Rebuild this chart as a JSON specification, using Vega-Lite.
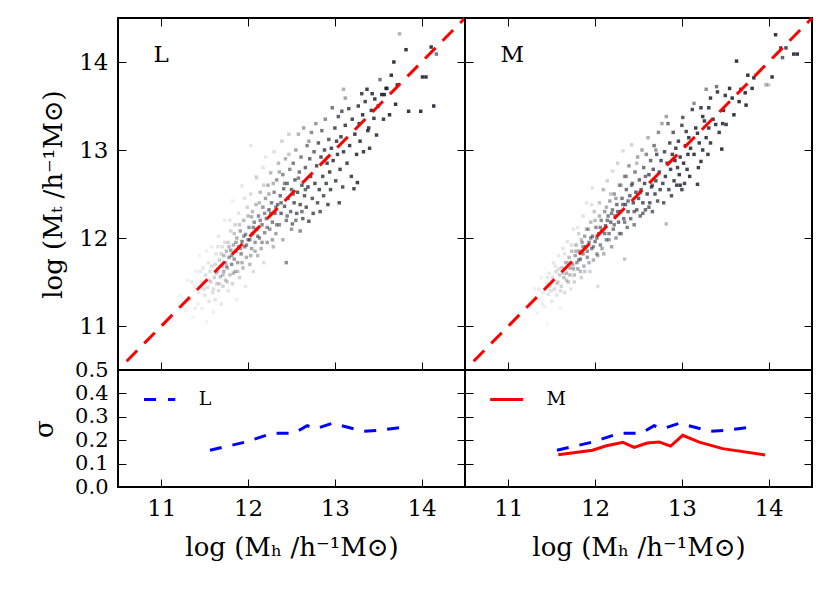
{
  "$schema": "https://vega.github.io/schema/vega-lite/v6.json",
  "padding": {"left": 30, "top": 11, "right": 5, "bottom": 5},
  "background": "white",
  "columns": 2,
  "bounds": "flush",
  "spacing": 0,
  "config": {
    "view": {"stroke": "black", "strokeWidth": 2},
    "axis": {
      "domain": false, "grid": false,
      "tickColor": "black", "tickWidth": 1, "tickSize": -8,
      "labelFont": "DejaVu Serif", "labelFontSize": 23, "labelColor": "black", "labelPadding": 18,
      "titleFont": "DejaVu Serif", "titleFontSize": 26, "titleFontWeight": "normal", "titleColor": "black"
    },
    "text": {"font": "DejaVu Serif"}
  },
  "datasets": {
    "ptsL": [
      {"x":11.22,"y":11.35,"w":0.06},{"x":11.28,"y":11.18,"w":0.06},{"x":11.3,"y":11.52,"w":0.07},{"x":11.33,"y":11.3,"w":0.08},{"x":11.36,"y":11.1,"w":0.06},{"x":11.38,"y":11.45,"w":0.08},{"x":11.4,"y":11.62,"w":0.07},{"x":11.42,"y":11.25,"w":0.08},{"x":11.43,"y":11.38,"w":0.1},{"x":11.44,"y":11.8,"w":0.06},
      {"x":11.46,"y":11.5,"w":0.12},{"x":11.47,"y":11.2,"w":0.08},{"x":11.48,"y":11.66,"w":0.1},{"x":11.5,"y":11.35,"w":0.12},{"x":11.51,"y":11.58,"w":0.14},{"x":11.52,"y":11.05,"w":0.06},{"x":11.53,"y":11.44,"w":0.15},{"x":11.54,"y":11.72,"w":0.1},{"x":11.55,"y":11.28,"w":0.12},{"x":11.56,"y":11.62,"w":0.15},{"x":11.57,"y":11.5,"w":0.18},{"x":11.58,"y":11.9,"w":0.08},{"x":11.59,"y":11.38,"w":0.14},{"x":11.6,"y":11.16,"w":0.08},
      {"x":11.61,"y":11.55,"w":0.2},{"x":11.62,"y":11.7,"w":0.18},{"x":11.62,"y":11.3,"w":0.12},{"x":11.63,"y":11.82,"w":0.12},{"x":11.64,"y":11.48,"w":0.22},{"x":11.65,"y":11.62,"w":0.25},{"x":11.66,"y":11.4,"w":0.15},{"x":11.66,"y":12.02,"w":0.1},{"x":11.67,"y":11.75,"w":0.22},{"x":11.68,"y":11.56,"w":0.28},{"x":11.69,"y":11.25,"w":0.1},{"x":11.7,"y":11.68,"w":0.3},{"x":11.7,"y":11.9,"w":0.15},{"x":11.71,"y":11.45,"w":0.2},{"x":11.72,"y":11.8,"w":0.3},{"x":11.72,"y":11.62,"w":0.35},{"x":11.73,"y":12.2,"w":0.08},{"x":11.74,"y":11.72,"w":0.35},{"x":11.74,"y":11.52,"w":0.25},
      {"x":11.75,"y":11.85,"w":0.3},{"x":11.76,"y":11.66,"w":0.35},{"x":11.77,"y":11.95,"w":0.2},{"x":11.77,"y":11.4,"w":0.12},{"x":11.78,"y":11.78,"w":0.45},{"x":11.79,"y":11.58,"w":0.25},{"x":11.8,"y":12.08,"w":0.18},{"x":11.8,"y":11.86,"w":0.4},{"x":11.81,"y":11.7,"w":0.5},{"x":11.82,"y":11.48,"w":0.2},{"x":11.82,"y":12.42,"w":0.08},{"x":11.83,"y":11.92,"w":0.35},{"x":11.84,"y":11.76,"w":0.45},{"x":11.85,"y":12.15,"w":0.2},{"x":11.85,"y":11.62,"w":0.3},{"x":11.86,"y":11.85,"w":0.5},{"x":11.87,"y":12.0,"w":0.35},{"x":11.87,"y":11.3,"w":0.08},{"x":11.88,"y":11.72,"w":0.4},{"x":11.89,"y":11.9,"w":0.45},{"x":11.89,"y":12.28,"w":0.12},
      {"x":11.9,"y":11.55,"w":0.2},{"x":11.91,"y":12.08,"w":0.4},{"x":11.92,"y":11.82,"w":0.5},{"x":11.93,"y":11.96,"w":0.55},{"x":11.93,"y":12.59,"w":0.1},{"x":11.94,"y":11.66,"w":0.3},{"x":11.95,"y":12.2,"w":0.3},{"x":11.96,"y":11.9,"w":0.5},{"x":11.97,"y":12.04,"w":0.5},{"x":11.97,"y":11.45,"w":0.1},{"x":11.98,"y":11.78,"w":0.35},{"x":11.99,"y":12.35,"w":0.2},{"x":12.0,"y":11.98,"w":0.55},{"x":12.01,"y":12.12,"w":0.45},{"x":12.02,"y":11.7,"w":0.3},{"x":12.03,"y":13.05,"w":0.1},{"x":12.03,"y":12.5,"w":0.15},{"x":12.04,"y":11.88,"w":0.4},{"x":12.04,"y":12.24,"w":0.35},
      {"x":12.05,"y":12.05,"w":0.55},{"x":12.06,"y":11.62,"w":0.15},{"x":12.07,"y":12.18,"w":0.5},{"x":12.08,"y":11.95,"w":0.45},{"x":12.09,"y":12.38,"w":0.3},{"x":12.1,"y":12.1,"w":0.55},{"x":12.1,"y":12.68,"w":0.15},{"x":12.11,"y":11.8,"w":0.3},{"x":12.12,"y":12.25,"w":0.5},{"x":12.13,"y":12.0,"w":0.5},{"x":12.14,"y":12.52,"w":0.3},{"x":12.15,"y":11.88,"w":0.35},{"x":12.16,"y":12.15,"w":0.55},{"x":12.17,"y":12.8,"w":0.12},{"x":12.17,"y":12.35,"w":0.45},{"x":12.18,"y":11.72,"w":0.15},{"x":12.19,"y":12.06,"w":0.5},{"x":12.2,"y":12.45,"w":0.4},{"x":12.2,"y":12.92,"w":0.1},
      {"x":12.21,"y":12.22,"w":0.55},{"x":12.22,"y":11.95,"w":0.4},{"x":12.23,"y":12.6,"w":0.35},{"x":12.24,"y":12.32,"w":0.6},{"x":12.25,"y":12.1,"w":0.45},{"x":12.26,"y":12.74,"w":0.3},{"x":12.27,"y":12.4,"w":0.55},{"x":12.28,"y":12.18,"w":0.55},{"x":12.29,"y":11.9,"w":0.3},{"x":12.3,"y":12.52,"w":0.5},{"x":12.3,"y":12.98,"w":0.15},{"x":12.31,"y":12.28,"w":0.6},{"x":12.32,"y":12.05,"w":0.4},{"x":12.33,"y":12.66,"w":0.45},{"x":12.34,"y":12.38,"w":0.6},{"x":12.35,"y":12.85,"w":0.3},
      {"x":12.36,"y":12.15,"w":0.5},{"x":12.37,"y":12.48,"w":0.6},{"x":12.38,"y":12.28,"w":0.65},{"x":12.39,"y":13.1,"w":0.2},{"x":12.4,"y":12.72,"w":0.5},{"x":12.4,"y":11.98,"w":0.35},{"x":12.41,"y":12.56,"w":0.6},{"x":12.42,"y":12.36,"w":0.65},{"x":12.43,"y":12.9,"w":0.35},{"x":12.44,"y":11.72,"w":0.5},{"x":12.44,"y":12.2,"w":0.55},{"x":12.45,"y":12.62,"w":0.6},{"x":12.46,"y":12.45,"w":0.65},{"x":12.47,"y":13.18,"w":0.2},{"x":12.48,"y":12.78,"w":0.5},{"x":12.49,"y":12.3,"w":0.6},{"x":12.5,"y":12.55,"w":0.65},{"x":12.5,"y":12.1,"w":0.45},
      {"x":12.51,"y":12.16,"w":0.6},{"x":12.52,"y":12.85,"w":0.55},{"x":12.53,"y":12.4,"w":0.7},{"x":12.54,"y":12.66,"w":0.65},{"x":12.55,"y":13.0,"w":0.4},{"x":12.56,"y":12.28,"w":0.65},{"x":12.57,"y":12.52,"w":0.7},{"x":12.58,"y":13.18,"w":0.35},{"x":12.59,"y":12.75,"w":0.6},{"x":12.6,"y":12.38,"w":0.7},{"x":12.6,"y":12.08,"w":0.5},{"x":12.61,"y":12.92,"w":0.55},{"x":12.62,"y":12.6,"w":0.7},{"x":12.63,"y":12.22,"w":0.65},{"x":12.64,"y":13.25,"w":0.4},{"x":12.65,"y":12.48,"w":0.7},
      {"x":12.66,"y":12.8,"w":0.65},{"x":12.67,"y":12.35,"w":0.7},{"x":12.68,"y":13.05,"w":0.55},{"x":12.69,"y":12.58,"w":0.75},{"x":12.7,"y":12.19,"w":0.7},{"x":12.71,"y":12.9,"w":0.65},{"x":12.72,"y":12.7,"w":0.75},{"x":12.73,"y":13.2,"w":0.5},{"x":12.74,"y":12.45,"w":0.7},{"x":12.75,"y":12.28,"w":0.7},{"x":12.76,"y":12.98,"w":0.65},{"x":12.77,"y":12.62,"w":0.75},{"x":12.78,"y":13.3,"w":0.45},{"x":12.79,"y":12.82,"w":0.75},{"x":12.8,"y":12.4,"w":0.7},
      {"x":12.81,"y":13.08,"w":0.7},{"x":12.82,"y":12.55,"w":0.75},{"x":12.83,"y":12.3,"w":0.7},{"x":12.84,"y":12.92,"w":0.75},{"x":12.85,"y":13.22,"w":0.6},{"x":12.86,"y":12.7,"w":0.75},{"x":12.87,"y":12.48,"w":0.7},{"x":12.88,"y":13.0,"w":0.75},{"x":12.89,"y":13.35,"w":0.5},{"x":12.9,"y":12.62,"w":0.75},{"x":12.91,"y":12.85,"w":0.8},{"x":12.92,"y":12.38,"w":0.75},{"x":12.93,"y":13.12,"w":0.7},{"x":12.94,"y":12.75,"w":0.8},{"x":12.95,"y":12.55,"w":0.75},
      {"x":12.96,"y":13.02,"w":0.8},{"x":12.97,"y":13.48,"w":0.6},{"x":12.98,"y":12.88,"w":0.8},{"x":13.0,"y":13.25,"w":0.75},{"x":13.01,"y":12.65,"w":0.75},{"x":13.02,"y":13.1,"w":0.8},{"x":13.03,"y":12.95,"w":0.8},{"x":13.04,"y":13.38,"w":0.7},{"x":13.05,"y":12.4,"w":0.75},{"x":13.06,"y":12.78,"w":0.8},{"x":13.07,"y":13.15,"w":0.8},{"x":13.08,"y":13.44,"w":0.7},{"x":13.09,"y":12.58,"w":0.75},{"x":13.1,"y":13.69,"w":0.35},{"x":13.1,"y":12.98,"w":0.8},
      {"x":13.12,"y":13.59,"w":0.4},{"x":13.12,"y":13.28,"w":0.8},{"x":13.14,"y":12.85,"w":0.8},{"x":13.16,"y":13.47,"w":0.75},{"x":13.17,"y":13.05,"w":0.85},{"x":13.19,"y":12.7,"w":0.8},{"x":13.2,"y":13.35,"w":0.8},{"x":13.22,"y":12.56,"w":0.8},{"x":13.23,"y":13.18,"w":0.85},{"x":13.25,"y":12.95,"w":0.85},{"x":13.26,"y":12.63,"w":0.85},{"x":13.27,"y":13.5,"w":0.8},{"x":13.28,"y":13.3,"w":0.85},{"x":13.29,"y":13.1,"w":0.85},
      {"x":13.31,"y":13.64,"w":0.8},{"x":13.32,"y":13.4,"w":0.85},{"x":13.33,"y":12.98,"w":0.85},{"x":13.35,"y":13.55,"w":0.8},{"x":13.37,"y":13.69,"w":0.85},{"x":13.38,"y":13.22,"w":0.85},{"x":13.39,"y":13.25,"w":0.85},{"x":13.4,"y":13.02,"w":0.85},{"x":13.42,"y":13.45,"w":0.85},{"x":13.43,"y":13.64,"w":0.85},{"x":13.45,"y":13.36,"w":0.85},{"x":13.46,"y":13.58,"w":0.85},{"x":13.48,"y":13.17,"w":0.85},{"x":13.5,"y":13.5,"w":0.85},
      {"x":13.52,"y":13.8,"w":0.6},{"x":13.54,"y":13.63,"w":0.9},{"x":13.56,"y":13.35,"w":0.85},{"x":13.57,"y":13.63,"w":0.9},{"x":13.59,"y":13.7,"w":0.9},{"x":13.6,"y":13.7,"w":0.85},{"x":13.63,"y":13.4,"w":0.9},{"x":13.65,"y":13.85,"w":0.9},{"x":13.68,"y":14.0,"w":0.9},{"x":13.7,"y":13.52,"w":0.9},{"x":13.72,"y":13.74,"w":0.9},{"x":13.745,"y":14.32,"w":0.35},
      {"x":13.82,"y":14.14,"w":0.9},{"x":13.85,"y":13.44,"w":0.9},{"x":13.99,"y":13.44,"w":0.9},{"x":14.01,"y":13.83,"w":0.9},{"x":14.05,"y":13.83,"w":0.9},{"x":14.11,"y":14.17,"w":0.9},{"x":14.14,"y":13.5,"w":0.9},{"x":14.17,"y":14.09,"w":0.6},
      {"x":11.35,"y":11.5,"w":0.1},{"x":11.39,"y":11.2,"w":0.08},{"x":11.45,"y":11.62,"w":0.1},{"x":11.49,"y":11.42,"w":0.14},{"x":11.52,"y":11.85,"w":0.08},{"x":11.55,"y":11.52,"w":0.16},{"x":11.58,"y":11.68,"w":0.15},{"x":11.6,"y":11.42,"w":0.16},{"x":11.63,"y":11.6,"w":0.22},{"x":11.65,"y":11.9,"w":0.12},{"x":11.67,"y":11.48,"w":0.2},{"x":11.69,"y":11.82,"w":0.2},{"x":11.71,"y":11.58,"w":0.28},{"x":11.73,"y":11.95,"w":0.15},{"x":11.75,"y":11.68,"w":0.35},{"x":11.76,"y":11.5,"w":0.2},{"x":11.78,"y":11.9,"w":0.3},{"x":11.79,"y":12.2,"w":0.1},{"x":11.81,"y":11.8,"w":0.45},{"x":11.83,"y":11.6,"w":0.3},
      {"x":11.84,"y":12.05,"w":0.25},{"x":11.86,"y":11.95,"w":0.4},{"x":11.88,"y":11.62,"w":0.25},{"x":11.9,"y":12.15,"w":0.25},{"x":11.91,"y":11.88,"w":0.45},{"x":11.93,"y":11.72,"w":0.35},{"x":11.95,"y":12.02,"w":0.45},{"x":11.96,"y":12.45,"w":0.12},{"x":11.98,"y":11.92,"w":0.5},{"x":12.0,"y":12.25,"w":0.3},{"x":12.02,"y":11.98,"w":0.5},{"x":12.03,"y":11.8,"w":0.35},{"x":12.05,"y":12.3,"w":0.3},{"x":12.06,"y":12.12,"w":0.5},{"x":12.08,"y":11.85,"w":0.35},{"x":12.09,"y":12.7,"w":0.12},{"x":12.11,"y":12.02,"w":0.5},{"x":12.13,"y":12.4,"w":0.3},{"x":12.14,"y":12.2,"w":0.5},{"x":12.16,"y":11.95,"w":0.45},
      {"x":12.18,"y":12.6,"w":0.2},{"x":12.19,"y":12.28,"w":0.5},{"x":12.22,"y":12.12,"w":0.5},{"x":12.24,"y":12.5,"w":0.35},{"x":12.26,"y":12.28,"w":0.55},{"x":12.28,"y":11.98,"w":0.4},{"x":12.29,"y":12.62,"w":0.35},{"x":12.32,"y":12.35,"w":0.55},{"x":12.33,"y":12.15,"w":0.5},{"x":12.36,"y":12.75,"w":0.35},{"x":12.38,"y":12.4,"w":0.6},{"x":12.42,"y":12.62,"w":0.5},{"x":12.45,"y":12.25,"w":0.55},{"x":12.47,"y":12.95,"w":0.25},{"x":12.52,"y":12.5,"w":0.6},{"x":12.55,"y":12.2,"w":0.55},{"x":12.58,"y":12.68,"w":0.55},{"x":12.62,"y":12.3,"w":0.6},{"x":12.66,"y":12.55,"w":0.65},{"x":12.7,"y":13.1,"w":0.4}
    ],
    "ptsM": [
      {"x":11.25,"y":11.2,"w":0.06},{"x":11.3,"y":11.42,"w":0.07},{"x":11.33,"y":11.15,"w":0.06},{"x":11.36,"y":11.3,"w":0.08},{"x":11.38,"y":11.55,"w":0.07},{"x":11.4,"y":11.38,"w":0.1},{"x":11.42,"y":11.22,"w":0.08},{"x":11.44,"y":11.48,"w":0.1},{"x":11.45,"y":11.02,"w":0.05},
      {"x":11.46,"y":11.36,"w":0.12},{"x":11.47,"y":11.6,"w":0.1},{"x":11.48,"y":11.45,"w":0.14},{"x":11.5,"y":11.28,"w":0.1},{"x":11.51,"y":11.55,"w":0.16},{"x":11.52,"y":11.72,"w":0.1},{"x":11.53,"y":11.42,"w":0.16},{"x":11.55,"y":11.62,"w":0.18},{"x":11.56,"y":11.35,"w":0.12},{"x":11.57,"y":11.5,"w":0.2},{"x":11.58,"y":11.8,"w":0.1},{"x":11.59,"y":11.58,"w":0.22},{"x":11.6,"y":11.2,"w":0.06},
      {"x":11.61,"y":11.45,"w":0.2},{"x":11.62,"y":11.66,"w":0.25},{"x":11.63,"y":11.88,"w":0.12},{"x":11.64,"y":11.55,"w":0.28},{"x":11.65,"y":11.38,"w":0.15},{"x":11.66,"y":11.72,"w":0.3},{"x":11.67,"y":11.6,"w":0.32},{"x":11.68,"y":11.96,"w":0.12},{"x":11.69,"y":11.5,"w":0.25},{"x":11.7,"y":11.78,"w":0.3},{"x":11.71,"y":11.66,"w":0.38},{"x":11.72,"y":11.42,"w":0.12},{"x":11.73,"y":11.85,"w":0.28},{"x":11.74,"y":11.7,"w":0.4},{"x":11.75,"y":12.1,"w":0.1},
      {"x":11.76,"y":11.58,"w":0.3},{"x":11.77,"y":11.8,"w":0.4},{"x":11.78,"y":11.92,"w":0.3},{"x":11.79,"y":11.72,"w":0.45},{"x":11.8,"y":11.65,"w":0.35},{"x":11.81,"y":12.05,"w":0.2},{"x":11.82,"y":11.85,"w":0.45},{"x":11.83,"y":11.76,"w":0.5},{"x":11.84,"y":11.55,"w":0.2},{"x":11.85,"y":11.95,"w":0.4},{"x":11.86,"y":12.25,"w":0.12},{"x":11.86,"y":11.82,"w":0.5},{"x":11.87,"y":11.68,"w":0.35},{"x":11.88,"y":12.02,"w":0.4},{"x":11.89,"y":11.9,"w":0.55},{"x":11.9,"y":12.4,"w":0.1},
      {"x":11.91,"y":11.78,"w":0.45},{"x":11.92,"y":12.1,"w":0.4},{"x":11.93,"y":11.95,"w":0.55},{"x":11.94,"y":11.62,"w":0.2},{"x":11.95,"y":12.18,"w":0.3},{"x":11.96,"y":11.88,"w":0.5},{"x":11.97,"y":12.57,"w":0.12},{"x":11.97,"y":12.02,"w":0.55},{"x":11.98,"y":11.75,"w":0.35},{"x":11.99,"y":12.3,"w":0.25},{"x":12.0,"y":11.96,"w":0.55},{"x":12.01,"y":12.12,"w":0.5},{"x":12.02,"y":11.82,"w":0.4},{"x":12.03,"y":11.45,"w":0.15},{"x":12.04,"y":12.05,"w":0.55},{"x":12.05,"y":12.4,"w":0.25},
      {"x":12.06,"y":11.92,"w":0.5},{"x":12.07,"y":12.2,"w":0.5},{"x":12.08,"y":12.08,"w":0.6},{"x":12.09,"y":12.55,"w":0.2},{"x":12.1,"y":11.82,"w":0.35},{"x":12.11,"y":12.3,"w":0.45},{"x":12.12,"y":12.14,"w":0.6},{"x":12.13,"y":11.98,"w":0.5},{"x":12.14,"y":12.65,"w":0.2},{"x":12.15,"y":12.25,"w":0.55},{"x":12.16,"y":12.05,"w":0.55},{"x":12.17,"y":12.42,"w":0.4},{"x":12.18,"y":12.18,"w":0.6},{"x":12.19,"y":11.9,"w":0.4},{"x":12.2,"y":12.76,"w":0.15},{"x":12.2,"y":12.32,"w":0.55},
      {"x":12.21,"y":12.1,"w":0.55},{"x":12.22,"y":12.5,"w":0.45},{"x":12.23,"y":12.25,"w":0.6},{"x":12.24,"y":12.0,"w":0.45},{"x":12.25,"y":12.38,"w":0.6},{"x":12.26,"y":12.85,"w":0.2},{"x":12.27,"y":12.18,"w":0.6},{"x":12.28,"y":12.6,"w":0.45},{"x":12.29,"y":12.3,"w":0.65},{"x":12.3,"y":12.05,"w":0.5},{"x":12.31,"y":12.45,"w":0.6},{"x":12.32,"y":12.99,"w":0.15},{"x":12.33,"y":12.22,"w":0.6},{"x":12.34,"y":11.76,"w":0.25},{"x":12.34,"y":12.7,"w":0.45},{"x":12.35,"y":12.38,"w":0.65},
      {"x":12.36,"y":12.55,"w":0.6},{"x":12.37,"y":12.12,"w":0.55},{"x":12.38,"y":12.3,"w":0.65},{"x":12.39,"y":12.82,"w":0.45},{"x":12.4,"y":12.48,"w":0.65},{"x":12.41,"y":12.22,"w":0.6},{"x":12.42,"y":13.06,"w":0.2},{"x":12.43,"y":12.62,"w":0.6},{"x":12.44,"y":12.4,"w":0.7},{"x":12.45,"y":12.15,"w":0.55},{"x":12.46,"y":12.75,"w":0.55},{"x":12.47,"y":12.52,"w":0.7},{"x":12.48,"y":12.32,"w":0.65},{"x":12.49,"y":12.92,"w":0.4},{"x":12.5,"y":12.45,"w":0.7},
      {"x":12.51,"y":12.66,"w":0.65},{"x":12.52,"y":12.25,"w":0.6},{"x":12.53,"y":12.55,"w":0.7},{"x":12.54,"y":13.0,"w":0.4},{"x":12.55,"y":12.4,"w":0.7},{"x":12.56,"y":12.8,"w":0.6},{"x":12.57,"y":12.62,"w":0.75},{"x":12.58,"y":12.32,"w":0.65},{"x":12.59,"y":12.95,"w":0.5},{"x":12.6,"y":12.5,"w":0.75},{"x":12.61,"y":13.14,"w":0.35},{"x":12.62,"y":12.72,"w":0.7},{"x":12.63,"y":12.4,"w":0.7},{"x":12.64,"y":12.88,"w":0.65},{"x":12.65,"y":12.58,"w":0.75},
      {"x":12.66,"y":12.3,"w":0.65},{"x":12.67,"y":12.78,"w":0.7},{"x":12.68,"y":13.05,"w":0.6},{"x":12.69,"y":12.5,"w":0.75},{"x":12.7,"y":12.65,"w":0.75},{"x":12.71,"y":12.95,"w":0.7},{"x":12.72,"y":12.42,"w":0.7},{"x":12.73,"y":13.2,"w":0.5},{"x":12.74,"y":12.75,"w":0.75},{"x":12.75,"y":12.55,"w":0.75},{"x":12.76,"y":12.88,"w":0.75},{"x":12.77,"y":13.3,"w":0.4},{"x":12.78,"y":12.62,"w":0.75},{"x":12.79,"y":12.4,"w":0.7},{"x":12.8,"y":12.98,"w":0.75},
      {"x":12.81,"y":12.7,"w":0.8},{"x":12.82,"y":12.16,"w":0.3},{"x":12.82,"y":13.38,"w":0.4},{"x":12.83,"y":12.85,"w":0.8},{"x":12.84,"y":13.3,"w":0.6},{"x":12.85,"y":12.55,"w":0.75},{"x":12.86,"y":13.08,"w":0.75},{"x":12.87,"y":12.78,"w":0.8},{"x":12.88,"y":12.48,"w":0.75},{"x":12.89,"y":12.95,"w":0.8},{"x":12.9,"y":13.2,"w":0.7},{"x":12.91,"y":12.65,"w":0.8},{"x":12.92,"y":12.88,"w":0.85},{"x":12.93,"y":13.02,"w":0.8},{"x":12.94,"y":12.6,"w":0.8},{"x":12.95,"y":12.8,"w":0.8},
      {"x":12.96,"y":13.1,"w":0.8},{"x":12.97,"y":12.72,"w":0.85},{"x":12.98,"y":12.92,"w":0.85},{"x":12.98,"y":12.6,"w":0.85},{"x":13.0,"y":13.28,"w":0.75},{"x":13.0,"y":12.55,"w":0.8},{"x":13.01,"y":13.37,"w":0.7},{"x":13.02,"y":12.85,"w":0.85},{"x":13.03,"y":12.62,"w":0.8},{"x":13.04,"y":13.05,"w":0.85},{"x":13.05,"y":13.21,"w":0.8},{"x":13.06,"y":12.78,"w":0.85},{"x":13.07,"y":12.95,"w":0.85},{"x":13.08,"y":13.14,"w":0.85},{"x":13.09,"y":12.7,"w":0.85},{"x":13.1,"y":13.02,"w":0.85},
      {"x":13.12,"y":13.46,"w":0.8},{"x":13.14,"y":12.95,"w":0.85},{"x":13.14,"y":13.53,"w":0.5},{"x":13.16,"y":13.25,"w":0.85},{"x":13.18,"y":13.19,"w":0.85},{"x":13.18,"y":12.61,"w":0.85},{"x":13.19,"y":12.8,"w":0.85},{"x":13.2,"y":13.08,"w":0.85},{"x":13.22,"y":12.87,"w":0.85},{"x":13.22,"y":13.48,"w":0.85},{"x":13.24,"y":13.38,"w":0.85},{"x":13.24,"y":13.0,"w":0.85},{"x":13.26,"y":13.33,"w":0.85},{"x":13.28,"y":13.14,"w":0.85},{"x":13.28,"y":13.69,"w":0.5},{"x":13.3,"y":12.95,"w":0.85},
      {"x":13.31,"y":13.48,"w":0.85},{"x":13.31,"y":13.25,"w":0.85},{"x":13.33,"y":13.59,"w":0.85},{"x":13.33,"y":13.08,"w":0.85},{"x":13.36,"y":13.35,"w":0.85},{"x":13.39,"y":13.29,"w":0.85},{"x":13.4,"y":13.72,"w":0.6},{"x":13.41,"y":13.66,"w":0.85},{"x":13.43,"y":13.2,"w":0.85},{"x":13.46,"y":13.01,"w":0.9},{"x":13.47,"y":13.3,"w":0.85},{"x":13.48,"y":13.45,"w":0.85},{"x":13.5,"y":13.62,"w":0.85},
      {"x":13.51,"y":13.29,"w":0.85},{"x":13.55,"y":13.7,"w":0.9},{"x":13.58,"y":13.59,"w":0.9},{"x":13.6,"y":13.4,"w":0.9},{"x":13.63,"y":14.01,"w":0.9},{"x":13.66,"y":13.55,"w":0.9},{"x":13.68,"y":13.69,"w":0.9},{"x":13.73,"y":13.65,"w":0.9},{"x":13.74,"y":13.51,"w":0.9},{"x":13.76,"y":13.85,"w":0.9},{"x":13.81,"y":13.7,"w":0.9},{"x":13.83,"y":13.82,"w":0.9},{"x":13.97,"y":13.74,"w":0.35},{"x":14.0,"y":13.74,"w":0.25},
      {"x":14.04,"y":13.83,"w":0.9},{"x":14.08,"y":14.31,"w":0.9},{"x":14.14,"y":14.16,"w":0.8},{"x":14.2,"y":14.16,"w":0.8},{"x":14.16,"y":14.05,"w":0.7},{"x":14.29,"y":14.09,"w":0.9},{"x":14.33,"y":14.09,"w":0.9},
      {"x":11.35,"y":11.42,"w":0.1},{"x":11.39,"y":11.25,"w":0.08},{"x":11.45,"y":11.55,"w":0.1},{"x":11.49,"y":11.4,"w":0.14},{"x":11.54,"y":11.68,"w":0.1},{"x":11.56,"y":11.48,"w":0.16},{"x":11.58,"y":11.65,"w":0.15},{"x":11.6,"y":11.4,"w":0.16},{"x":11.63,"y":11.6,"w":0.22},{"x":11.65,"y":11.82,"w":0.12},{"x":11.67,"y":11.52,"w":0.22},{"x":11.69,"y":11.72,"w":0.25},{"x":11.71,"y":11.58,"w":0.3},{"x":11.73,"y":11.92,"w":0.15},{"x":11.75,"y":11.65,"w":0.38},{"x":11.76,"y":11.5,"w":0.2},{"x":11.78,"y":11.85,"w":0.35},{"x":11.8,"y":12.12,"w":0.1},{"x":11.81,"y":11.75,"w":0.45},{"x":11.83,"y":11.62,"w":0.3},
      {"x":11.84,"y":11.98,"w":0.25},{"x":11.86,"y":11.9,"w":0.45},{"x":11.88,"y":11.62,"w":0.25},{"x":11.9,"y":12.1,"w":0.3},{"x":11.91,"y":11.85,"w":0.5},{"x":11.93,"y":11.72,"w":0.35},{"x":11.95,"y":12.0,"w":0.5},{"x":11.96,"y":12.38,"w":0.12},{"x":11.98,"y":11.9,"w":0.5},{"x":12.0,"y":12.2,"w":0.3},{"x":12.02,"y":12.0,"w":0.55},{"x":12.03,"y":11.8,"w":0.35},{"x":12.05,"y":12.25,"w":0.35},{"x":12.06,"y":12.12,"w":0.55},{"x":12.08,"y":11.88,"w":0.4},{"x":12.1,"y":12.55,"w":0.15},{"x":12.11,"y":12.05,"w":0.55},{"x":12.13,"y":12.35,"w":0.35},{"x":12.14,"y":12.2,"w":0.55},{"x":12.16,"y":11.98,"w":0.45},
      {"x":12.18,"y":12.5,"w":0.25},{"x":12.19,"y":12.28,"w":0.55},{"x":12.22,"y":12.15,"w":0.55},{"x":12.24,"y":12.45,"w":0.4},{"x":12.26,"y":12.3,"w":0.6},{"x":12.28,"y":12.05,"w":0.45},{"x":12.3,"y":12.6,"w":0.35},{"x":12.32,"y":12.38,"w":0.6},{"x":12.34,"y":12.18,"w":0.55},{"x":12.36,"y":12.7,"w":0.4},{"x":12.38,"y":12.42,"w":0.6},{"x":12.42,"y":12.6,"w":0.55},{"x":12.45,"y":12.3,"w":0.6},{"x":12.48,"y":12.85,"w":0.3},{"x":12.52,"y":12.52,"w":0.65},{"x":12.55,"y":12.28,"w":0.6},{"x":12.58,"y":12.7,"w":0.6},{"x":12.62,"y":12.35,"w":0.65},{"x":12.66,"y":12.6,"w":0.65},{"x":12.7,"y":13.0,"w":0.45}
    ],
    "sigL": [
      {"x":11.56,"s":0.157},{"x":11.97,"s":0.192},{"x":12.28,"s":0.23},{"x":12.53,"s":0.23},{"x":12.68,"s":0.262},{"x":12.78,"s":0.249},{"x":12.97,"s":0.272},{"x":13.33,"s":0.238},{"x":13.51,"s":0.242},{"x":13.83,"s":0.257}
    ],
    "sigM": [
      {"x":11.575,"s":0.138},{"x":11.97,"s":0.157},{"x":12.12,"s":0.175},{"x":12.32,"s":0.191},{"x":12.45,"s":0.169},{"x":12.6,"s":0.188},{"x":12.74,"s":0.192},{"x":12.87,"s":0.175},{"x":13.01,"s":0.221},{"x":13.2,"s":0.192},{"x":13.47,"s":0.164},{"x":13.96,"s":0.137}
    ]
  },
  "concat": [
    {
      "width": 347, "height": 352,
      "resolve": {"axis": {"x": "independent", "y": "independent"}},
      "layer": [
        {
          "data": {"name": "ptsL"},
          "mark": {"type": "square", "size": 12, "color": "#1e2130"},
          "encoding": {
            "x": {"field": "x", "type": "quantitative", "scale": {"domain": [10.5, 14.5], "nice": false, "zero": false}, "axis": {"orient": "bottom", "values": [11, 12, 13, 14], "labels": false, "title": null}},
            "y": {"field": "y", "type": "quantitative", "scale": {"domain": [10.5, 14.5], "nice": false, "zero": false}, "axis": {"orient": "left", "values": [11, 12, 13, 14], "title": "log (Mₜ /h⁻¹M⊙)", "titlePadding": 12}},
            "opacity": {"field": "w", "type": "quantitative", "scale": {"domain": [0, 1], "range": [0, 1]}, "legend": null}
          }
        },
        {
          "data": {"values": [{"m": 10.6}, {"m": 14.5}]},
          "mark": {"type": "line", "color": "#ff0000", "strokeWidth": 3, "strokeDash": [15, 10]},
          "encoding": {
            "x": {"field": "m", "type": "quantitative", "axis": {"orient": "top", "values": [11, 12, 13, 14], "labels": false, "title": null}},
            "y": {"field": "m", "type": "quantitative", "axis": {"orient": "right", "values": [11, 12, 13, 14], "labels": false, "title": null}}
          }
        },
        {
          "data": {"values": [{"x": 10.91, "y": 14.0, "t": "L"}]},
          "mark": {"type": "text", "align": "left", "baseline": "alphabetic", "fontSize": 23, "font": "DejaVu Serif", "color": "black"},
          "encoding": {
            "x": {"field": "x", "type": "quantitative", "axis": null},
            "y": {"field": "y", "type": "quantitative", "axis": null},
            "text": {"field": "t"}
          }
        }
      ]
    },
    {
      "width": 347, "height": 352,
      "resolve": {"axis": {"x": "independent", "y": "independent"}},
      "layer": [
        {
          "data": {"name": "ptsM"},
          "mark": {"type": "square", "size": 12, "color": "#1e2130"},
          "encoding": {
            "x": {"field": "x", "type": "quantitative", "scale": {"domain": [10.5, 14.5], "nice": false, "zero": false}, "axis": {"orient": "bottom", "values": [11, 12, 13, 14], "labels": false, "title": null}},
            "y": {"field": "y", "type": "quantitative", "scale": {"domain": [10.5, 14.5], "nice": false, "zero": false}, "axis": {"orient": "left", "values": [11, 12, 13, 14], "labels": false, "title": null}},
            "opacity": {"field": "w", "type": "quantitative", "scale": {"domain": [0, 1], "range": [0, 1]}, "legend": null}
          }
        },
        {
          "data": {"values": [{"m": 10.6}, {"m": 14.5}]},
          "mark": {"type": "line", "color": "#ff0000", "strokeWidth": 3, "strokeDash": [15, 10]},
          "encoding": {
            "x": {"field": "m", "type": "quantitative", "axis": {"orient": "top", "values": [11, 12, 13, 14], "labels": false, "title": null}},
            "y": {"field": "m", "type": "quantitative", "axis": {"orient": "right", "values": [11, 12, 13, 14], "labels": false, "title": null}}
          }
        },
        {
          "data": {"values": [{"x": 10.91, "y": 14.0, "t": "M"}]},
          "mark": {"type": "text", "align": "left", "baseline": "alphabetic", "fontSize": 23, "font": "DejaVu Serif", "color": "black"},
          "encoding": {
            "x": {"field": "x", "type": "quantitative", "axis": null},
            "y": {"field": "y", "type": "quantitative", "axis": null},
            "text": {"field": "t"}
          }
        }
      ]
    },
    {
      "width": 347, "height": 117,
      "resolve": {"axis": {"x": "independent", "y": "independent"}},
      "layer": [
        {
          "data": {"name": "sigL"},
          "mark": {"type": "line", "color": "#0000ff", "strokeWidth": 3, "strokeDash": [12, 11]},
          "encoding": {
            "x": {"field": "x", "type": "quantitative", "scale": {"domain": [10.5, 14.5], "nice": false, "zero": false}, "axis": {"orient": "bottom", "values": [11, 12, 13, 14], "title": "log (Mₕ /h⁻¹M⊙)", "titlePadding": 14}},
            "y": {"field": "s", "type": "quantitative", "scale": {"domain": [0, 0.5], "nice": false}, "axis": {"orient": "left", "values": [0, 0.1, 0.2, 0.3, 0.4, 0.5], "format": ".1f", "labelFontSize": 21, "title": "σ", "titlePadding": 17}}
          }
        },
        {
          "data": {"values": [{"x": 10.8, "x2": 11.16, "s": 0.374}]},
          "mark": {"type": "rule", "color": "#0000ff", "strokeWidth": 3, "strokeDash": [12, 12]},
          "encoding": {
            "x": {"field": "x", "type": "quantitative", "axis": null},
            "x2": {"field": "x2"},
            "y": {"field": "s", "type": "quantitative", "axis": {"orient": "right", "values": [0.1, 0.2, 0.3, 0.4], "labels": false, "title": null}}
          }
        },
        {
          "data": {"values": [{"x": 11.43, "s": 0.374, "t": "L"}]},
          "mark": {"type": "text", "align": "left", "baseline": "middle", "fontSize": 19, "font": "DejaVu Serif", "color": "black"},
          "encoding": {
            "x": {"field": "x", "type": "quantitative", "axis": null},
            "y": {"field": "s", "type": "quantitative", "axis": null},
            "text": {"field": "t"}
          }
        }
      ]
    },
    {
      "width": 347, "height": 117,
      "resolve": {"axis": {"x": "independent", "y": "independent"}},
      "layer": [
        {
          "data": {"name": "sigL"},
          "mark": {"type": "line", "color": "#0000ff", "strokeWidth": 3, "strokeDash": [12, 11]},
          "encoding": {
            "x": {"field": "x", "type": "quantitative", "scale": {"domain": [10.5, 14.5], "nice": false, "zero": false}, "axis": {"orient": "bottom", "values": [11, 12, 13, 14], "title": "log (Mₕ /h⁻¹M⊙)", "titlePadding": 14}},
            "y": {"field": "s", "type": "quantitative", "scale": {"domain": [0, 0.5], "nice": false}, "axis": {"orient": "left", "values": [0.1, 0.2, 0.3, 0.4], "labels": false, "title": null}}
          }
        },
        {
          "data": {"name": "sigM"},
          "mark": {"type": "line", "color": "#ff0000", "strokeWidth": 3},
          "encoding": {
            "x": {"field": "x", "type": "quantitative", "axis": null},
            "y": {"field": "s", "type": "quantitative", "axis": {"orient": "right", "values": [0.1, 0.2, 0.3, 0.4], "labels": false, "title": null}}
          }
        },
        {
          "data": {"values": [{"x": 10.79, "x2": 11.17, "s": 0.374}]},
          "mark": {"type": "rule", "color": "#ff0000", "strokeWidth": 3},
          "encoding": {
            "x": {"field": "x", "type": "quantitative", "axis": null},
            "x2": {"field": "x2"},
            "y": {"field": "s", "type": "quantitative", "axis": null}
          }
        },
        {
          "data": {"values": [{"x": 11.44, "s": 0.374, "t": "M"}]},
          "mark": {"type": "text", "align": "left", "baseline": "middle", "fontSize": 19, "font": "DejaVu Serif", "color": "black"},
          "encoding": {
            "x": {"field": "x", "type": "quantitative", "axis": null},
            "y": {"field": "s", "type": "quantitative", "axis": null},
            "text": {"field": "t"}
          }
        }
      ]
    }
  ]
}
